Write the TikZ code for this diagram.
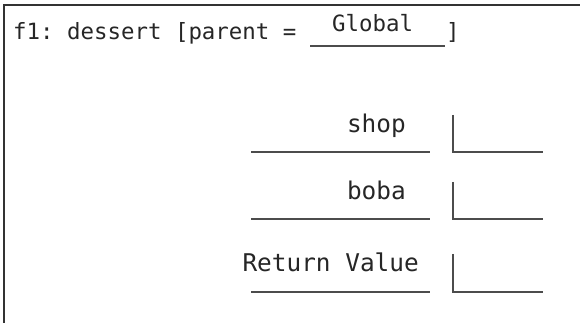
\documentclass[tikz,border=0pt]{standalone}
\usepackage{fontspec}
\setmonofont{DejaVu Sans Mono}
\begin{document}
\begin{tikzpicture}[x=1pt,y=1pt,
  frameline/.style={line width=2pt,draw=black!80},
  slot/.style={line width=1.6pt,draw=black!70},
  hdr/.style={inner sep=0pt,font=\ttfamily\fontsize{22.4}{22.4}\selectfont,text=black!85},
  lbl/.style={inner sep=0pt,font=\ttfamily\fontsize{24.4}{24.4}\selectfont,text=black!85}]
\useasboundingbox (0,0) rectangle (580,323);
% frame
\coordinate (ftr) at (580,318);
\coordinate (ftl) at (4,318);
\coordinate (fbl) at (4,0);
\draw[frameline] (ftr) -- (ftl) -- (fbl);
% header
\node[hdr,anchor=base west] (head) at (13,283) {f1: dessert [parent =};
\node[hdr,anchor=base west] (glob) at (332,291) {Global};
\node[hdr,anchor=base west] (brk) at (446,283) {]};
\coordinate (gl) at (310,277);
\coordinate (gr) at (445,277);
\draw[slot] (gl) -- (gr);
% rows
\node[lbl,anchor=base east] (shop) at (406,190) {shop};
\node[lbl,anchor=base east] (boba) at (406,123) {boba};
\node[lbl,anchor=base east] (ret) at (419,51) {Return Value};
% name underlines
\coordinate (s1) at (251,171); \coordinate (s2) at (430,171);
\coordinate (b1) at (251,104); \coordinate (b2) at (430,104);
\coordinate (r1) at (251,31);  \coordinate (r2) at (430,31);
\draw[slot] (s1) -- (s2);
\draw[slot] (b1) -- (b2);
\draw[slot] (r1) -- (r2);
% value boxes
\coordinate (sv1) at (453,208); \coordinate (sv2) at (453,171); \coordinate (sv3) at (543,171);
\coordinate (bv1) at (453,141); \coordinate (bv2) at (453,104); \coordinate (bv3) at (543,104);
\coordinate (rv1) at (453,69);  \coordinate (rv2) at (453,31);  \coordinate (rv3) at (543,31);
\draw[slot] (sv1) -- (sv2) -- (sv3);
\draw[slot] (bv1) -- (bv2) -- (bv3);
\draw[slot] (rv1) -- (rv2) -- (rv3);
\end{tikzpicture}
\end{document}
